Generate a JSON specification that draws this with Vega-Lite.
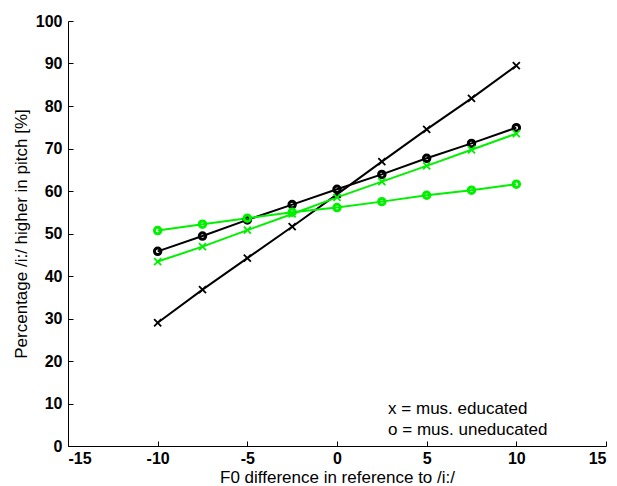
{
  "$schema": "https://vega.github.io/schema/vega-lite/v6.json",
  "width": 538,
  "height": 425,
  "autosize": {"type": "none"},
  "padding": {"left": 68, "top": 21, "right": 11, "bottom": 40},
  "background": "white",
  "config": {
    "view": {"stroke": null},
    "font": "Liberation Sans"
  },
  "datasets": {
    "curves": [
      {"f0": -10, "pct": 29.0, "cond": "A", "edu": "educated"},
      {"f0": -7.5, "pct": 36.8, "cond": "A", "edu": "educated"},
      {"f0": -5, "pct": 44.2, "cond": "A", "edu": "educated"},
      {"f0": -2.5, "pct": 51.6, "cond": "A", "edu": "educated"},
      {"f0": 0, "pct": 59.2, "cond": "A", "edu": "educated"},
      {"f0": 2.5, "pct": 66.9, "cond": "A", "edu": "educated"},
      {"f0": 5, "pct": 74.5, "cond": "A", "edu": "educated"},
      {"f0": 7.5, "pct": 81.8, "cond": "A", "edu": "educated"},
      {"f0": 10, "pct": 89.5, "cond": "A", "edu": "educated"},
      {"f0": -10, "pct": 45.8, "cond": "A", "edu": "uneducated"},
      {"f0": -7.5, "pct": 49.4, "cond": "A", "edu": "uneducated"},
      {"f0": -5, "pct": 53.2, "cond": "A", "edu": "uneducated"},
      {"f0": -2.5, "pct": 56.8, "cond": "A", "edu": "uneducated"},
      {"f0": 0, "pct": 60.4, "cond": "A", "edu": "uneducated"},
      {"f0": 2.5, "pct": 63.9, "cond": "A", "edu": "uneducated"},
      {"f0": 5, "pct": 67.7, "cond": "A", "edu": "uneducated"},
      {"f0": 7.5, "pct": 71.2, "cond": "A", "edu": "uneducated"},
      {"f0": 10, "pct": 74.9, "cond": "A", "edu": "uneducated"},
      {"f0": -10, "pct": 43.4, "cond": "B", "edu": "educated"},
      {"f0": -7.5, "pct": 46.9, "cond": "B", "edu": "educated"},
      {"f0": -5, "pct": 50.8, "cond": "B", "edu": "educated"},
      {"f0": -2.5, "pct": 54.6, "cond": "B", "edu": "educated"},
      {"f0": 0, "pct": 58.5, "cond": "B", "edu": "educated"},
      {"f0": 2.5, "pct": 62.2, "cond": "B", "edu": "educated"},
      {"f0": 5, "pct": 65.9, "cond": "B", "edu": "educated"},
      {"f0": 7.5, "pct": 69.7, "cond": "B", "edu": "educated"},
      {"f0": 10, "pct": 73.5, "cond": "B", "edu": "educated"},
      {"f0": -10, "pct": 50.7, "cond": "B", "edu": "uneducated"},
      {"f0": -7.5, "pct": 52.2, "cond": "B", "edu": "uneducated"},
      {"f0": -5, "pct": 53.6, "cond": "B", "edu": "uneducated"},
      {"f0": -2.5, "pct": 55.0, "cond": "B", "edu": "uneducated"},
      {"f0": 0, "pct": 56.1, "cond": "B", "edu": "uneducated"},
      {"f0": 2.5, "pct": 57.5, "cond": "B", "edu": "uneducated"},
      {"f0": 5, "pct": 59.0, "cond": "B", "edu": "uneducated"},
      {"f0": 7.5, "pct": 60.2, "cond": "B", "edu": "uneducated"},
      {"f0": 10, "pct": 61.6, "cond": "B", "edu": "uneducated"}
    ],
    "notes": [
      {"nx": 2.85, "ny": 8.6, "label": "x = mus. educated"},
      {"nx": 2.85, "ny": 3.8, "label": "o = mus. uneducated"}
    ]
  },
  "layer": [
    {
      "data": {"name": "curves"},
      "mark": {"type": "line", "strokeWidth": 2},
      "encoding": {
        "x": {
          "field": "f0", "type": "quantitative",
          "scale": {"domain": [-15, 15], "nice": false, "zero": false},
          "axis": {
            "values": [-15, -10, -5, 0, 5, 10, 15],
            "labelExpr": "datum.value + ''",
            "title": "F0 difference in reference to /i:/",
            "grid": false, "domainColor": "black", "tickColor": "black", "tickSize": -5,
            "labelFont": "Liberation Sans", "labelFontWeight": "bold", "labelFontSize": 16, "labelColor": "black",
            "labelPadding": 9,
            "titleFont": "Liberation Sans", "titleFontWeight": "normal", "titleFontSize": 17, "titleColor": "black",
            "titlePadding": 3
          }
        },
        "y": {
          "field": "pct", "type": "quantitative",
          "scale": {"domain": [0, 100], "nice": false},
          "axis": {
            "values": [0, 10, 20, 30, 40, 50, 60, 70, 80, 90, 100],
            "title": "Percentage /i:/ higher in pitch [%]",
            "grid": false, "domainColor": "black", "tickColor": "black", "tickSize": -5,
            "labelFont": "Liberation Sans", "labelFontWeight": "bold", "labelFontSize": 16, "labelColor": "black",
            "labelPadding": 11,
            "titleFont": "Liberation Sans", "titleFontWeight": "normal", "titleFontSize": 17, "titleColor": "black",
            "titlePadding": 5
          }
        },
        "color": {
          "field": "cond", "type": "nominal",
          "scale": {"domain": ["A", "B"], "range": ["#000000", "#00f000"]},
          "legend": null
        },
        "detail": {"field": "edu", "type": "nominal"},
        "order": {"field": "f0", "type": "quantitative"}
      }
    },
    {
      "data": {"name": "curves"},
      "mark": {"type": "point", "filled": false, "opacity": 1},
      "encoding": {
        "x": {"field": "f0", "type": "quantitative"},
        "y": {"field": "pct", "type": "quantitative"},
        "color": {"field": "cond", "type": "nominal", "legend": null},
        "shape": {
          "field": "edu", "type": "nominal",
          "scale": {"domain": ["educated", "uneducated"], "range": ["M-1,-1L1,1M1,-1L-1,1", "circle"]},
          "legend": null
        },
        "size": {
          "field": "edu", "type": "nominal",
          "scale": {"domain": ["educated", "uneducated"], "range": [50, 42]},
          "legend": null
        },
        "strokeWidth": {
          "field": "edu", "type": "nominal",
          "scale": {"domain": ["educated", "uneducated"], "range": [1.8, 3]},
          "legend": null
        }
      }
    },
    {
      "data": {"name": "notes"},
      "mark": {"type": "text", "align": "left", "baseline": "middle", "fontSize": 17, "font": "Liberation Sans", "fill": "black"},
      "encoding": {
        "x": {"field": "nx", "type": "quantitative"},
        "y": {"field": "ny", "type": "quantitative"},
        "text": {"field": "label"}
      }
    }
  ]
}
